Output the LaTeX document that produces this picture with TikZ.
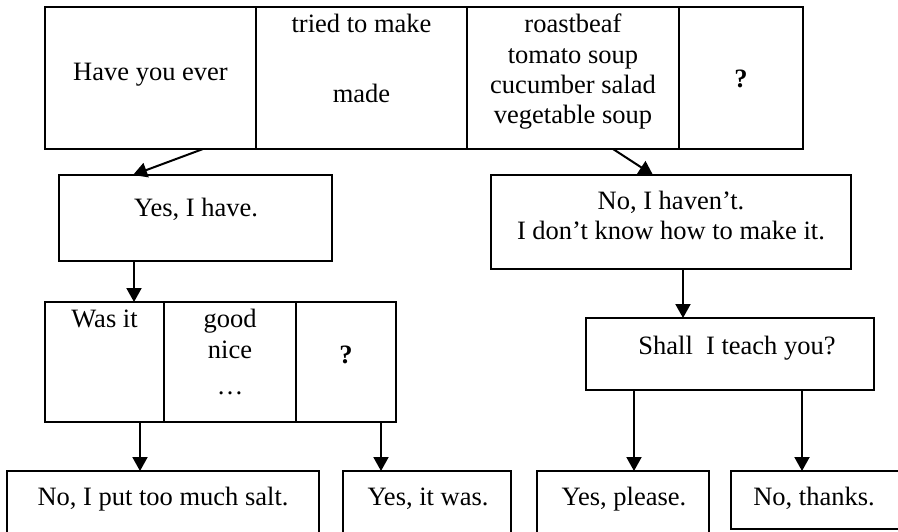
\documentclass[tikz,border=0pt]{standalone}
\usepackage{fontspec}
\setmainfont{Liberation Serif}
\usetikzlibrary{arrows.meta}
\begin{document}
\begin{tikzpicture}[x=1pt,y=-1pt,
  box/.style={draw, line width=2pt, inner sep=0pt, outer sep=0pt, rectangle},
  txt/.style={anchor=base, inner sep=0pt, font=\fontsize{26.5}{31}\selectfont},
  arr/.style={line width=2pt, -{Triangle[length=14pt,width=15pt]}}]
\useasboundingbox (0,0) rectangle (898,531);
\clip (0,0) rectangle (898,531);
% top table
\node[box, minimum width=211pt, minimum height=142pt] (t1) at (150.5,78) {};
\node[box, minimum width=211pt, minimum height=142pt] (t2) at (361.5,78) {};
\node[box, minimum width=212pt, minimum height=142pt] (t3) at (573,78) {};
\node[box, minimum width=124pt, minimum height=142pt] (t4) at (741,78) {};
\node[txt] (t1a) at (150.5,80) {Have you ever};
\node[txt] (t2a) at (361.5,32) {tried to make};
\node[txt] (t2b) at (361.5,102) {made};
\node[txt] (t3a) at (573,32) {roastbeaf};
\node[txt] (t3b) at (573,63) {tomato soup};
\node[txt] (t3c) at (573,93) {cucumber salad};
\node[txt] (t3d) at (573,123) {vegetable soup};
\node[txt, font=\fontsize{26.5}{31}\selectfont\bfseries] (t4a) at (741,87) {?};
% second row
\node[box, minimum width=273pt, minimum height=86pt] (yes) at (195.5,218) {};
\node[txt] (yesa) at (196,216) {Yes, I have.};
\node[box, minimum width=360pt, minimum height=94pt] (no) at (671,222) {};
\node[txt] (noa) at (671,209) {No, I haven’t.};
\node[txt] (nob) at (671,239) {I don’t know how to make it.};
% third row
\node[box, minimum width=119pt, minimum height=120pt] (w1) at (104.5,362) {};
\node[box, minimum width=132pt, minimum height=120pt] (w2) at (230,362) {};
\node[box, minimum width=100pt, minimum height=120pt] (w3) at (346,362) {};
\node[txt] (w1a) at (104.5,327) {Was it};
\node[txt] (w2a) at (230,327) {good};
\node[txt] (w2b) at (230,358) {nice};
\node[txt] (w2c) at (230,394) {…};
\node[txt, font=\fontsize{26.5}{31}\selectfont\bfseries] (w3a) at (346,363) {?};
\node[box, minimum width=288pt, minimum height=72pt] (shall) at (730,354) {};
\node[txt] (shalla) at (737,354) {Shall\ \ I teach you?};
% bottom row
\node[box, minimum width=312pt, minimum height=80pt] (salt) at (163,511) {};
\node[box, minimum width=168pt, minimum height=80pt] (itwas) at (427,511) {};
\node[box, minimum width=172pt, minimum height=80pt] (please) at (623,511) {};
\node[box, minimum width=172pt, minimum height=58pt] (thanks) at (817,500) {};
\node[txt] (salta) at (163,505) {No, I put too much salt.};
\node[txt] (itwasa) at (428,505) {Yes, it was.};
\node[txt] (pleasea) at (624,505) {Yes, please.};
\node[txt] (thanksa) at (814,505) {No, thanks.};
% connectors
\draw[arr] ([xshift=52.5pt]t1.south) -- ([xshift=-62.5pt]yes.north);
\draw[arr] ([xshift=40pt]t3.south) -- ([xshift=-18pt]no.north);
\draw[arr] ([xshift=-61.5pt]yes.south) -- ([xshift=-61.5pt]yes.south |- w1.north);
\draw[arr] ([xshift=12pt]no.south) -- ([xshift=12pt]no.south |- shall.north);
\draw[arr] ([xshift=35.5pt]w1.south) -- ([xshift=35.5pt]w1.south |- salt.north);
\draw[arr] ([xshift=35pt]w3.south) -- ([xshift=35pt]w3.south |- itwas.north);
\draw[arr] ([xshift=-96pt]shall.south) -- ([xshift=-96pt]shall.south |- please.north);
\draw[arr] ([xshift=72pt]shall.south) -- ([xshift=72pt]shall.south |- thanks.north);
\end{tikzpicture}
\end{document}
